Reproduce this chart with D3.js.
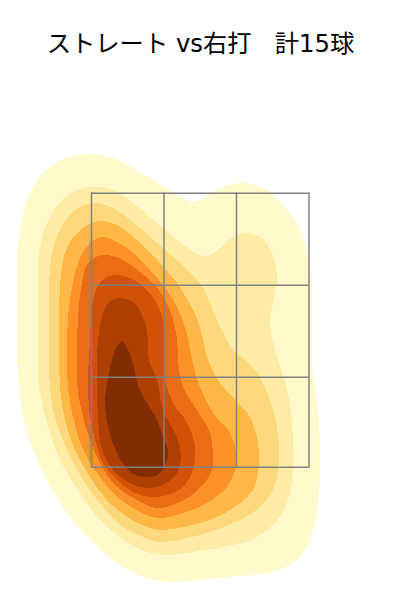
<!DOCTYPE html>
<html><head><meta charset="utf-8">
<script src="https://cdn.jsdelivr.net/npm/d3@7/dist/d3.min.js"></script>
<style>html,body{margin:0;padding:0;background:#fff}svg{display:block}</style>
</head><body><div id="chart"></div>
<script>
const titleText = "ストレート vs右打   計15球";
const zoneX = [91.5, 164, 236.5, 309];
const zoneY = [193, 285, 377, 467];
const levelColors = ["#fff9cb","#feeca6","#fed87c","#feb848","#fd9328","#ea6c15","#d15106","#ae3f03","#812d04"];

const level1 = [[88,154],[113,158],[133,168],[157,182],[177,195],[191,202],[200,200],[217,190],[240,183],[263,188],[283,205],[300,230],[308,257],[312,280],[312,330],[313,377],[316,393],[320,443],[320,477],[316,517],[307,547],[293,563],[273,572],[250,575],[217,578],[177,582],[167,582],[143,577],[117,563],[93,543],[70,517],[50,487],[33,450],[23,417],[18,377],[17,330],[17,283],[17,257],[20,230],[28,197],[43,173],[63,159]];
const level2 = [[95,187],[113,190],[133,203],[157,223],[177,240],[200,255],[208,256],[220,248],[233,237],[247,233],[262,238],[273,255],[277,277],[273,303],[270,323],[273,340],[278,360],[288,393],[293,437],[293,470],[288,500],[277,520],[257,537],[233,545],[193,552],[167,555],[147,552],[123,540],[100,520],[80,493],[60,460],[47,423],[39,387],[38,340],[38,287],[39,253],[47,223],[60,202],[77,190]];
const level3 = [[95,203],[113,208],[133,222],[157,243],[180,263],[200,283],[210,303],[220,327],[233,350],[245,360],[260,377],[273,410],[279,443],[278,470],[273,490],[260,507],[240,520],[210,532],[177,540],[157,542],[143,537],[123,527],[103,507],[83,480],[67,450],[55,417],[50,387],[49,340],[49,287],[52,253],[60,230],[75,210]];
const level4 = [[98,221],[117,225],[137,240],[157,260],[177,283],[193,310],[200,327],[208,360],[220,383],[237,402],[250,417],[258,443],[258,473],[253,490],[240,503],[217,517],[183,527],[160,530],[147,527],[127,517],[107,500],[90,477],[75,450],[65,420],[60,387],[59,340],[60,287],[65,253],[77,233]];
const level5 = [[102,237],[117,242],[133,253],[150,270],[163,285],[177,307],[187,333],[192,360],[200,387],[213,413],[230,433],[236,453],[235,470],[227,487],[207,503],[183,513],[157,518],[133,508],[113,493],[97,473],[82,447],[73,417],[68,387],[67,357],[68,317],[72,287],[78,263],[88,245]];
const level6 = [[103,255],[123,260],[140,272],[157,287],[170,310],[177,337],[178,360],[183,387],[197,410],[210,433],[213,453],[212,470],[200,488],[180,502],[157,508],[137,500],[117,487],[102,467],[90,440],[82,413],[77,383],[77,353],[78,317],[82,283],[88,263]];
const level7 = [[115,275],[130,278],[147,290],[160,310],[165,337],[165,360],[165,380],[173,403],[187,423],[195,447],[193,470],[183,487],[167,495],[150,497],[133,492],[117,480],[103,463],[95,440],[90,417],[88,380],[90,340],[92,307],[97,287],[105,278]];
const level8 = [[118,298],[133,302],[143,317],[148,340],[149,360],[157,380],[163,410],[177,437],[181,457],[177,473],[163,485],[147,488],[130,483],[113,470],[102,450],[98,417],[97,380],[97,360],[98,340],[102,317],[108,303]];
const level9 = [[122,341],[128,350],[132,360],[140,390],[157,420],[163,437],[168,450],[166,463],[157,475],[143,477],[130,472],[117,453],[108,427],[105,403],[108,377],[112,360],[115,350]];
const levels = [level1,level2,level3,level4,level5,level6,level7,level8,level9];

const W = 400, H = 600;
const x = d3.scaleLinear().domain([0,400]).range([0,W]);
const y = d3.scaleLinear().domain([0,600]).range([0,H]);
const svg = d3.select("#chart").append("svg").attr("width",W).attr("height",H);
const line = d3.line().x(d=>x(d[0])).y(d=>y(d[1])).curve(d3.curveCatmullRomClosed.alpha(0.5));

svg.selectAll("path.level").data(levels).join("path")
  .attr("class","level")
  .attr("d",line)
  .attr("fill",(d,i)=>levelColors[i])
  .attr("shape-rendering","crispEdges");

const g = svg.append("g").attr("stroke","#808080").attr("stroke-width",1.5).attr("fill","none");
g.selectAll("line.v").data(zoneX).join("line").attr("class","v")
  .attr("x1",d=>x(d)).attr("x2",d=>x(d))
  .attr("y1",y(zoneY[0])-0.75).attr("y2",y(zoneY[zoneY.length-1])+0.75);
g.selectAll("line.h").data(zoneY).join("line").attr("class","h")
  .attr("y1",d=>y(d)+0.25).attr("y2",d=>y(d)+0.25)
  .attr("x1",x(zoneX[0])).attr("x2",x(zoneX[zoneX.length-1]));

svg.append("text").attr("x",200.5).attr("y",52)
  .attr("text-anchor","middle").attr("font-family","'DejaVu Sans','Noto Sans CJK JP',sans-serif")
  .attr("font-size",24.3).attr("fill","#000").style("white-space","pre").text(titleText);
</script></body></html>
